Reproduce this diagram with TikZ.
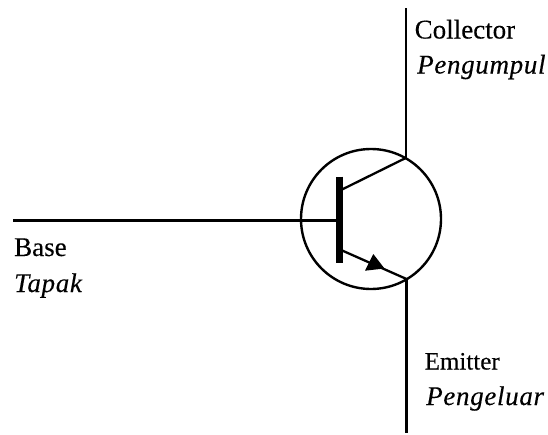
\documentclass[tikz,border=0pt]{standalone}
\usepackage{fontspec}
\setmainfont{Liberation Serif}[FakeBold=0.25]
\begin{document}
\begin{tikzpicture}[x=1pt,y=-1pt,
 wire/.style={line width=2.3pt,black},
 lbl/.style={anchor=base west,inner sep=0pt,text=black,font=\fontsize{27}{30}\selectfont\addfontfeature{FakeBold=0.25}},
 ital/.style={anchor=base west,inner sep=0pt,text=black,font=\fontsize{27}{30}\selectfont\itshape\addfontfeature{LetterSpace=2.5,FakeBold=0.25}}]
\useasboundingbox (0,0) rectangle (548,434);
\node[circle,draw=black,line width=2.4pt,minimum size=140pt,inner sep=0pt] (body) at (371,219) {};
\coordinate (ctop) at (405.7,8);
\coordinate (cj) at (405.7,158);
\coordinate (ej) at (406.5,279);
\coordinate (ebot) at (406.5,433);
\coordinate (bl) at (13,220.5);
\coordinate (bb) at (336,220.5);
\coordinate (b1) at (339,176.5);
\coordinate (b2) at (339,262.5);
\coordinate (cs) at (341,190);
\coordinate (es) at (341,250);
\draw[wire] (ctop) -- (cj);
\draw[wire] (ej) -- (ebot);
\draw[wire] (bl) -- (bb);
\draw[line width=7pt,black] (b1) -- (b2);
\draw[wire] (cs) -- (cj);
\draw[wire] (es) -- (ej);
\fill[black] (384.5,268.5) -- (365,270.7) -- (373.3,254) -- cycle;
\node[lbl] (c1) at (414.5,38.5) {Collector};
\node[ital] (c2) at (417,73.5) {Pengumpul};
\node[lbl] (b1t) at (14,256) {Base};
\node[ital] (b2t) at (14,292) {Tapak};
\node[lbl,font=\fontsize{25}{30}\selectfont\addfontfeature{FakeBold=0.25}] (e1) at (424.5,369.5) {Emitter};
\node[ital] (e2) at (426,405) {Pengeluar};
\end{tikzpicture}
\end{document}
